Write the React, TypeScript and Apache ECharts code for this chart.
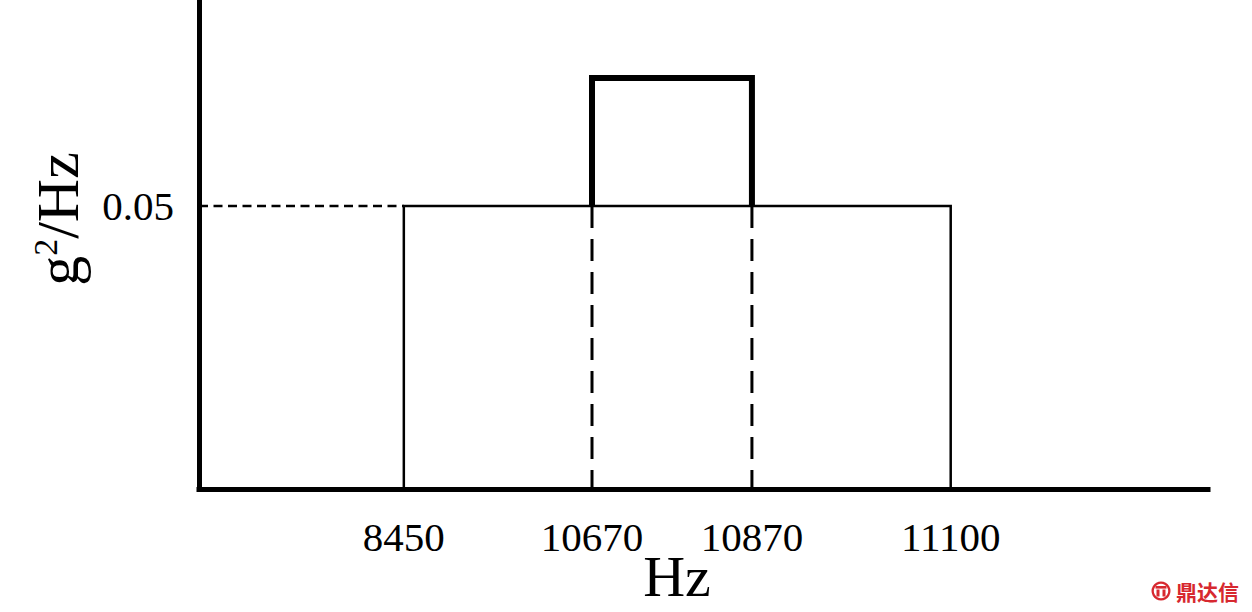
import React, { useEffect, useRef } from "react";
import * as echarts from "echarts";

// Frequency break points (Hz) shown as tick labels
const freqLabels = ["8450", "10670", "10870", "11100"];
// Schematic positions of those break points along the (non-linear) x axis, in axis units 0..100
const xSlot = [20.3, 38.95, 54.8, 74.5];
// PSD levels (g^2/Hz)
const baseLevel = 0.05;
const peakLevel = 0.0726;
const yTickValues = [0.05];
const xAxisMax = 100;
const yAxisMax = 0.0864;

export default function App() {
  const ref = useRef<HTMLDivElement>(null);

  useEffect(() => {
    const chart = echarts.init(ref.current!, null, { renderer: "svg" });
    const serif = "'Liberation Serif', 'Times New Roman', serif";
    const [x0, x1, x2, x3] = xSlot;
    const black = "#000000";
    const red = "#d7282f";

    const seg = (name: string, data: number[][], width: number, type: any, z: number) => ({
      type: "line",
      name,
      data,
      symbol: "none",
      showSymbol: false,
      silent: true,
      z,
      lineStyle: { color: black, width, type, cap: "butt", join: "miter" },
    });

    const labelFor = (v: number) => {
      let best = 0;
      for (let i = 1; i < xSlot.length; i++) {
        if (Math.abs(xSlot[i] - v) < Math.abs(xSlot[best] - v)) best = i;
      }
      return freqLabels[best];
    };

    chart.setOption({
      animation: false,
      backgroundColor: "#ffffff",
      grid: { left: 199, top: 0, width: 1009, height: 489, containLabel: false },
      xAxis: {
        type: "value",
        min: 0,
        max: xAxisMax,
        splitLine: { show: false },
        axisTick: { show: false },
        axisLine: { show: true, onZero: false, lineStyle: { color: black, width: 5, cap: "square" } },
        axisLabel: {
          customValues: xSlot,
          formatter: (v: number) => labelFor(v),
          color: black,
          fontFamily: serif,
          fontSize: 41,
          margin: 27,
        },
      },
      yAxis: {
        type: "value",
        min: 0,
        max: yAxisMax,
        splitLine: { show: false },
        axisTick: { show: false },
        axisLine: { show: true, lineStyle: { color: black, width: 5, cap: "square" } },
        axisLabel: {
          customValues: yTickValues,
          formatter: (v: number) => v.toFixed(2),
          color: black,
          fontFamily: serif,
          fontSize: 41,
          margin: 25,
        },
      },
      series: [
        seg("base", [[x0, 0], [x0, baseLevel], [x3, baseLevel], [x3, 0]], 2.5, "solid", 2),
        seg("peak", [[x1, baseLevel], [x1, peakLevel], [x2, peakLevel], [x2, baseLevel]], 6, "solid", 4),
        seg("level", [[0, baseLevel], [x0, baseLevel]], 2.5, [9, 5.5], 3),
        seg("edgeL", [[x1, baseLevel], [x1, 0]], 3, [22, 11], 3),
        seg("edgeR", [[x2, baseLevel], [x2, 0]], 3, [22, 11], 3),
      ],
      graphic: [
        {
          type: "text",
          x: 58,
          y: 219,
          rotation: Math.PI / 2,
          style: {
            text: "{m|g}{s|2}{m|/Hz}",
            align: "center",
            verticalAlign: "middle",
            fill: black,
            rich: {
              m: { fontFamily: serif, fontSize: 60, fill: black },
              s: { fontFamily: serif, fontSize: 34, fill: black, verticalAlign: "top", padding: [0, 0, 26, 0] },
            },
          },
        },
        {
          type: "text",
          x: 677,
          y: 576,
          style: {
            text: "Hz",
            align: "center",
            verticalAlign: "middle",
            fontFamily: serif,
            fontSize: 58,
            fill: black,
          },
        },
        {
          type: "group",
          x: 1161,
          y: 591,
          children: [
            { type: "ring", shape: { cx: 0, cy: 0, r: 9.5, r0: 7.2 }, style: { fill: red } },
            { type: "rect", shape: { x: -5.5, y: -5, width: 11, height: 2.6 }, style: { fill: red } },
            { type: "rect", shape: { x: -4.5, y: -1.5, width: 3, height: 7 }, style: { fill: red } },
            { type: "rect", shape: { x: 1.5, y: -1.5, width: 3, height: 7 }, style: { fill: red } },
          ],
        },
        {
          type: "text",
          x: 1176,
          y: 591,
          style: {
            text: "鼎达信",
            align: "left",
            verticalAlign: "middle",
            fontFamily: "'Noto Sans CJK SC', sans-serif",
            fontWeight: "bold",
            fontSize: 21,
            fill: red,
          },
        },
      ],
    });

    return () => chart.dispose();
  }, []);

  return (
    <div
      ref={ref}
      style={{ position: "absolute", left: 0, top: 0, width: 1252, height: 612, background: "#ffffff" }}
    />
  );
}
